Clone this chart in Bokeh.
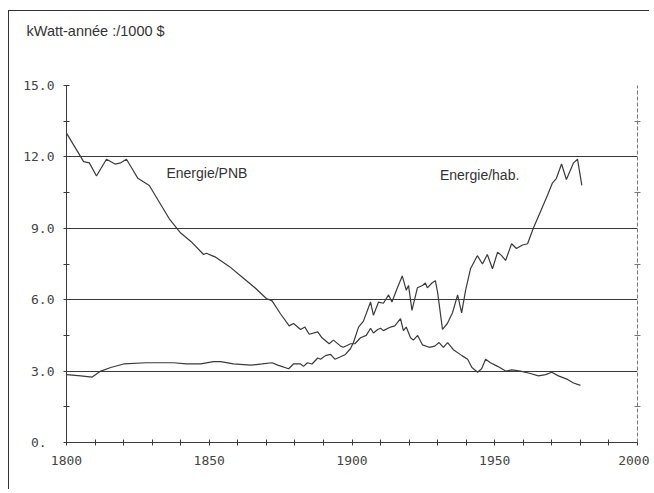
from bokeh.plotting import figure
from bokeh.models import Label, FixedTicker, LinearAxis, Title
from bokeh.embed import file_html
from bokeh.resources import INLINE

# ---- data ----
PNB_YEARS = [1800, 1802, 1803, 1805, 1806, 1808, 1810.5, 1812, 1814, 1817, 1819, 1821, 1823, 1825,
             1829, 1832, 1836, 1840, 1844, 1848, 1849, 1852, 1857, 1862, 1866, 1870, 1872, 1875,
             1878, 1879.5, 1882, 1883.5, 1885, 1888, 1889.5, 1892, 1893.5, 1896, 1897, 1899.5,
             1901, 1903, 1905, 1906.5, 1907.5, 1909, 1910, 1911, 1913.5, 1915, 1917, 1918, 1919,
             1920.5, 1921.5, 1923, 1924.7, 1927, 1929, 1930.5, 1932, 1933.5, 1935.5, 1938.5,
             1940.5, 1942, 1944, 1945.4, 1946.8, 1948.5, 1951, 1953.8, 1956, 1959, 1962.5,
             1965.3, 1967.8, 1970, 1972.3, 1975.5, 1977.6, 1980]
PNB_VALUES = [13.0, 12.6, 12.4, 12.0, 11.8, 11.75, 11.2, 11.5, 11.9, 11.7, 11.75, 11.9, 11.5, 11.1,
              10.8, 10.2, 9.4, 8.8, 8.4, 7.9, 7.95, 7.8, 7.4, 6.9, 6.5, 6.05, 5.95, 5.4,
              4.9, 5.0, 4.75, 4.85, 4.55, 4.65, 4.4, 4.15, 4.3, 4.05, 4.0, 4.15,
              4.15, 4.4, 4.5, 4.8, 4.6, 4.75, 4.8, 4.7, 4.85, 4.9, 5.2, 4.7, 4.85,
              4.4, 4.3, 4.5, 4.1, 4.0, 4.05, 4.2, 4.0, 4.2, 3.9, 3.65,
              3.5, 3.15, 2.95, 3.1, 3.5, 3.35, 3.2, 3.0, 3.05, 3.0, 2.9,
              2.8, 2.85, 2.95, 2.8, 2.65, 2.5, 2.4]

HAB_YEARS = [1800, 1805, 1809, 1812, 1815.5, 1820, 1828, 1837.5, 1842, 1847, 1851.5, 1854, 1858.5,
             1864.5, 1868.5, 1872, 1874, 1877.8, 1879.5, 1882, 1883, 1884.4, 1886, 1888, 1889,
             1890.7, 1892.5, 1894, 1896, 1897.7, 1899.5, 1900.5, 1902.3, 1904, 1906.5, 1907.5,
             1909.3, 1911, 1912.8, 1914, 1915.9, 1917.6, 1919, 1919.8, 1921, 1922.9, 1924.7,
             1925.7, 1926.4, 1928, 1929.2, 1930, 1931.7, 1933.4, 1935.2, 1937, 1938.4, 1939.8,
             1941.5, 1943.9, 1945.7, 1947.4, 1949.2, 1951, 1952.4, 1953.8, 1955.9, 1957.6,
             1959.7, 1961.5, 1963.5, 1966, 1968.5, 1970.2, 1971.6, 1973.4, 1975.1, 1977.6,
             1979, 1980.5]
HAB_VALUES = [2.85, 2.8, 2.75, 3.0, 3.15, 3.3, 3.35, 3.35, 3.3, 3.3, 3.4, 3.4, 3.3,
              3.25, 3.3, 3.35, 3.25, 3.1, 3.3, 3.3, 3.2, 3.35, 3.3, 3.55, 3.5,
              3.65, 3.7, 3.5, 3.6, 3.7, 3.95, 4.2, 4.85, 5.1, 5.9, 5.35,
              5.9, 5.85, 6.2, 5.9, 6.5, 7.0, 6.4, 6.6, 5.55, 6.5, 6.6,
              6.7, 6.5, 6.7, 6.8, 6.3, 4.75, 5.0, 5.45, 6.2, 5.45, 6.4,
              7.3, 7.85, 7.5, 7.9, 7.3, 8.0, 7.85, 7.65, 8.35, 8.15,
              8.3, 8.35, 9.0, 9.7, 10.4, 10.9, 11.1, 11.7, 11.05, 11.75,
              11.9, 10.8]

X_TICKS = [1800, 1850, 1900, 1950, 2000]
X_MINOR = [1810, 1820, 1830, 1840, 1860, 1870, 1880, 1890, 1910, 1920, 1930, 1940,
           1960, 1970, 1980, 1990]
Y_TICKS = [0, 3, 6, 9, 12, 15]
Y_MINOR = [1.5, 4.5, 7.5, 10.5, 13.5]
Y_LABELS = ["0.\u00a0", "3.0", "6.0", "9.0", "12.0", "15.0"]
Y_GRID = [3, 6, 9, 12, 15]

TITLE = "kWatt-année :/1000 $"
SERIES_LABELS = ["Energie/PNB", "Energie/hab."]

INK = "#3a3a3a"
TXT = "#333333"

p = figure(width=641, height=479, x_range=(1800, 2000), y_range=(0, 15),
           output_backend="svg", toolbar_location=None,
           min_border_left=57, min_border_right=13, min_border_top=74, min_border_bottom=48)
p.outline_line_color = None
p.background_fill_color = "white"
p.border_fill_color = "white"
p.styles = {"border-top": "1px solid #333", "border-left": "1px solid #333",
            "margin-left": "8px", "margin-top": "10px"}

# title (top-left caption)
p.title.text = TITLE
p.title.align = "left"
p.title.offset = -40
p.title.standoff = 0
p.title.text_font = "Liberation Sans"
p.title.text_font_size = "14.5px"
p.title.text_font_style = "normal"
p.title.text_color = TXT
# blank spacer between caption and plot area
p.add_layout(Title(text=" ", text_font_size="31px", standoff=10), "above")

# axes
xa = p.xaxis[0]
xa.ticker = FixedTicker(ticks=X_TICKS, minor_ticks=X_MINOR)
ya = p.yaxis[0]
ya.ticker = FixedTicker(ticks=Y_TICKS, minor_ticks=Y_MINOR)
ya.major_label_overrides = {t: lab for t, lab in zip(Y_TICKS, Y_LABELS)}
for ax in (xa, ya):
    ax.axis_line_color = INK
    ax.axis_line_width = 1
    ax.major_tick_line_color = INK
    ax.minor_tick_line_color = INK
    ax.major_tick_in = 3
    ax.major_tick_out = 3
    ax.minor_tick_in = 3
    ax.minor_tick_out = 3
    ax.major_label_text_font = "DejaVu Sans Mono"
    ax.major_label_text_font_size = "13px"
    ax.major_label_text_color = "#444444"
xa.major_label_standoff = 10
ya.major_label_standoff = 9

ra = LinearAxis(ticker=FixedTicker(ticks=[], minor_ticks=Y_MINOR))
ra.axis_line_color = "#777777"
ra.axis_line_dash = "4 2"
ra.minor_tick_line_color = "#777777"
ra.minor_tick_in = 3
ra.minor_tick_out = 3
ra.major_label_standoff = 0
ra.major_label_text_font_size = "0px"
p.add_layout(ra, "right")

p.xgrid.visible = False
p.ygrid.ticker = FixedTicker(ticks=Y_GRID)
p.ygrid.grid_line_color = INK
p.ygrid.grid_line_width = 1

# curves
p.line(PNB_YEARS, PNB_VALUES, line_color=INK, line_width=1.2)
p.line(HAB_YEARS, HAB_VALUES, line_color=INK, line_width=1.2)

# series labels
p.add_layout(Label(x=1835, y=11.32, text=SERIES_LABELS[0], text_font="Liberation Sans",
                   text_font_size="14px", text_color=TXT, text_baseline="alphabetic"))
p.add_layout(Label(x=1930.8, y=11.24, text=SERIES_LABELS[1], text_font="Liberation Sans",
                   text_font_size="14px", text_color=TXT, text_baseline="alphabetic"))

open("out.html", "w").write(file_html(p, INLINE))
